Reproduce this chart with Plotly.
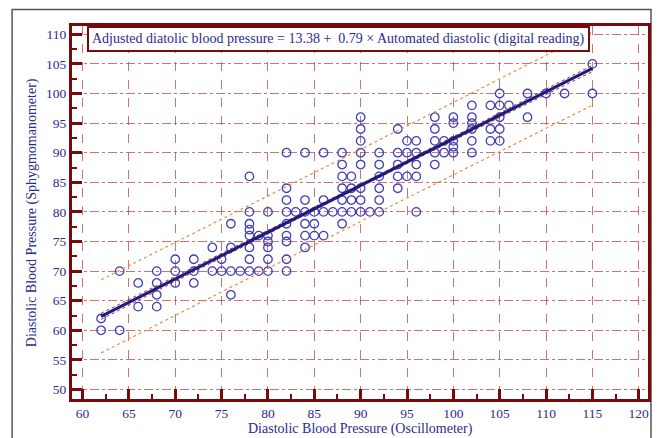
import numpy as np
import plotly.graph_objects as go

# ---- data ----
x_osc = [62, 62, 64, 64, 66, 66, 68, 68, 68, 68, 70, 70, 70, 72, 72, 72,
         74, 74, 75, 75, 76, 76, 76, 76, 77,
         78, 78, 78, 78, 78, 78, 78, 78, 79, 79,
         80, 80, 80, 80, 80, 80,
         82, 82, 82, 82, 82, 82, 82, 82, 82, 83,
         84, 84, 84, 84, 84, 84, 85, 85, 85, 86, 86, 86, 86, 87,
         88, 88, 88, 88, 88, 88, 88, 89, 89, 89, 89,
         90, 90, 90, 90, 90, 90, 90, 90, 91,
         92, 92, 92, 92, 92, 92, 94, 94, 94, 94, 94, 95, 95, 95,
         96, 96, 96, 96, 96, 98, 98, 98, 98, 98, 99, 99,
         100, 100, 100, 100, 100, 102, 102, 102, 102, 102, 102,
         104, 104, 104, 105, 105, 105, 105, 105, 106, 108, 108, 110, 112, 115, 115]
y_sphyg = [62, 60, 70, 60, 68, 64, 70, 68, 66, 64, 72, 70, 68, 72, 70, 68,
           74, 70, 72, 70, 78, 74, 70, 66, 70,
           86, 80, 78, 77, 76, 74, 72, 70, 76, 70,
           80, 76, 75, 74, 72, 70,
           90, 84, 82, 80, 78, 76, 75, 72, 70, 80,
           90, 82, 80, 78, 76, 74, 80, 78, 76, 90, 82, 80, 76, 80,
           90, 88, 86, 84, 82, 80, 78, 86, 84, 82, 80,
           96, 94, 92, 90, 88, 84, 82, 80, 80,
           90, 88, 86, 84, 82, 80, 94, 90, 88, 86, 84, 92, 90, 86,
           92, 90, 88, 86, 80, 96, 94, 92, 90, 88, 92, 90,
           96, 95, 92, 91, 90, 98, 96, 95, 94, 92, 90,
           98, 94, 92, 100, 98, 96, 94, 92, 98, 100, 96, 100, 100, 105, 100]

intercept = 13.38
slope = 0.79
x_line_range = [62, 115]
residual_sd = 3.1
sample_size = 800          # assumed study size for the narrow CI of the mean

x_ticks = list(range(60, 121, 5))
y_ticks = list(range(50, 111, 5))
equation_text = "Adjusted diatolic blood pressure = 13.38 +  0.79 \u00d7 Automated diastolic (digital reading)"
x_title = "Diastolic Blood Pressure (Oscillometer)"
y_title = "Diastolic Blood Pressure (Sphygmomanometer)"

# ---- derived regression bands ----
xa = np.array(x_osc, float)
xm = xa.mean()
sxx_unit = np.mean((xa - xm) ** 2)
xl = np.linspace(x_line_range[0], x_line_range[1], 60)
yl = intercept + slope * xl
lev = (xl - xm) ** 2 / (sample_size * sxx_unit)
pi = 1.96 * residual_sd * np.sqrt(1 + 1 / sample_size + lev * 6)
ci = 1.96 * residual_sd * np.sqrt(1 / sample_size + lev)

FONT = "Liberation Serif"
NAVY = "#2b2b8c"
MAROON = "#7a0a0a"
GRID = "rgba(185,70,70,0.75)"

fig = go.Figure()
fig.add_trace(go.Scatter(x=x_osc, y=y_sphyg, mode="markers",
                         marker=dict(symbol="circle-open", size=8.5, color="#4040b8",
                                     line=dict(width=1.3, color="#4040b8")),
                         hoverinfo="x+y"))
for sign in (1, -1):
    fig.add_trace(go.Scatter(x=xl, y=yl + sign * pi, mode="lines",
                             line=dict(color="#f28a3c", width=1.2, dash="dot")))
    fig.add_trace(go.Scatter(x=xl, y=yl + sign * ci, mode="lines",
                             line=dict(color="#a03030", width=1, dash="dot")))
fig.add_trace(go.Scatter(x=xl, y=yl, mode="lines",
                         line=dict(color="#1c1c80", width=3)))

axis_common = dict(
    showline=True, linecolor=MAROON, linewidth=3, mirror=True,
    ticks="inside", ticklen=10, tickwidth=3, tickcolor=MAROON,
    showgrid=True, gridcolor=GRID, gridwidth=1,
    zeroline=False,
    tickfont=dict(family=FONT, size=13.5, color=NAVY),
)
fig.update_xaxes(range=[58.86, 121.0], tickvals=x_ticks, griddash="dash",
                 minor=dict(ticks="inside", ticklen=5, tickwidth=2, tickcolor=MAROON,
                            dtick=2.5, tick0=60, showgrid=False),
                 **axis_common)
fig.update_yaxes(range=[48.4, 111.4], tickvals=y_ticks, griddash="dashdot",
                 minor=dict(ticks="inside", ticklen=5, tickwidth=2, tickcolor=MAROON,
                            dtick=2.5, tick0=50, showgrid=False),
                 **axis_common)

fig.add_annotation(text=equation_text, xref="paper", yref="paper",
                   x=0.026, y=1.0, xanchor="left", yanchor="top", showarrow=False,
                   font=dict(family=FONT, size=14, color=NAVY),
                   bgcolor="white", bordercolor=MAROON, borderwidth=2, borderpad=3)
fig.add_annotation(text=x_title, xref="paper", yref="paper", x=0.5, y=-0.08,
                   xanchor="center", yanchor="middle", showarrow=False,
                   font=dict(family=FONT, size=14, color=NAVY))
fig.add_annotation(text=y_title, xref="paper", yref="paper", x=-0.07, y=0.5,
                   xanchor="center", yanchor="middle", showarrow=False, textangle=-90,
                   font=dict(family=FONT, size=14, color=NAVY))

fig.add_shape(type="rect", xref="paper", yref="paper",
              x0=-0.104, x1=1.0052, y0=-0.2, y1=1.044,
              line=dict(color="#555555", width=1.5), fillcolor="rgba(0,0,0,0)", layer="below")

fig.update_layout(width=662, height=438, showlegend=False,
                  margin=dict(l=72, r=14, t=26, b=39),
                  plot_bgcolor="white", paper_bgcolor="white")
fig.write_html("out.html")
